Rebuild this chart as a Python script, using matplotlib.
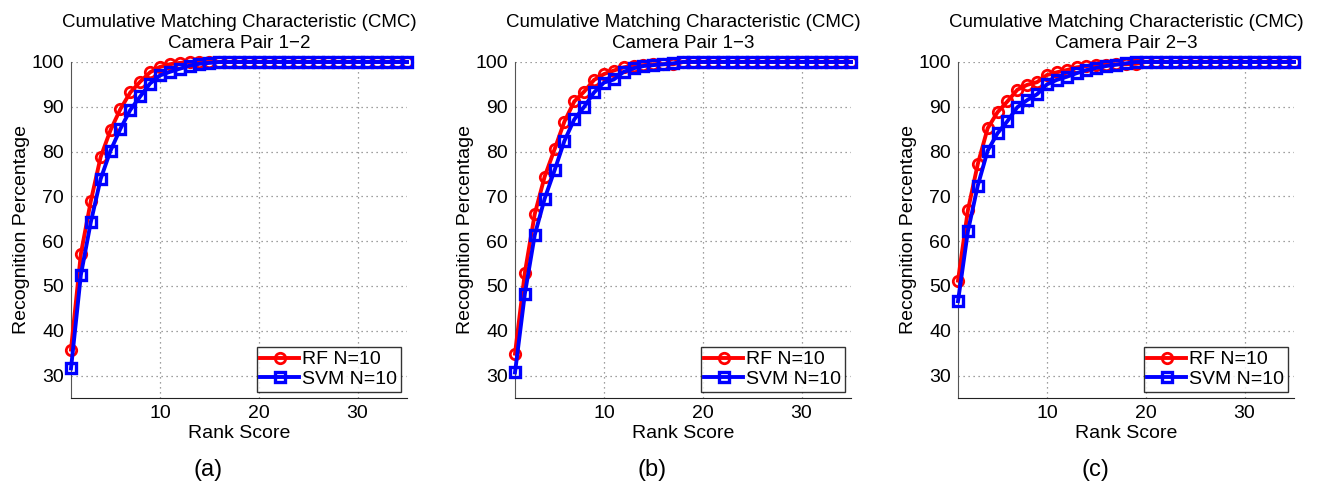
import matplotlib
matplotlib.use("Agg")
import matplotlib.pyplot as plt
import numpy as np

plt.rcParams['font.family'] = ['Liberation Sans', 'DejaVu Sans']

ranks = list(range(1, 36))

titles = ["Camera Pair 1\u22122", "Camera Pair 1\u22123", "Camera Pair 2\u22123"]
captions = ["(a)", "(b)", "(c)"]

rf_a = [35.8, 57.2, 68.9, 78.8, 84.8, 89.5, 93.2, 95.6, 97.7, 98.9, 99.5, 99.8,
        100, 100, 100, 100, 100, 100, 100, 100, 100, 100, 100, 100, 100, 100,
        100, 100, 100, 100, 100, 100, 100, 100, 100]
svm_a = [31.6, 52.5, 64.2, 73.9, 80.2, 85.1, 89.3, 92.3, 95.2, 97.0, 97.8, 98.5,
         99.2, 99.6, 99.8, 100, 100, 100, 100, 100, 100, 100, 100, 100, 100, 100,
         100, 100, 100, 100, 100, 100, 100, 100, 100]

rf_b = [34.9, 53.0, 66.1, 74.4, 80.5, 86.7, 91.2, 93.4, 96.0, 97.3, 98.1, 98.8,
        99.2, 99.3, 99.5, 99.5, 99.5, 100, 100, 100, 100, 100, 100, 100, 100, 100,
        100, 100, 100, 100, 100, 100, 100, 100, 100]
svm_b = [30.7, 48.3, 61.4, 69.5, 75.8, 82.4, 87.2, 90.0, 93.2, 95.4, 96.1, 97.8,
         98.6, 99.1, 99.3, 99.5, 99.7, 100, 100, 100, 100, 100, 100, 100, 100, 100,
         100, 100, 100, 100, 100, 100, 100, 100, 100]

rf_c = [51.2, 66.9, 77.2, 85.2, 88.8, 91.2, 93.8, 94.9, 95.5, 97.1, 97.7, 98.2,
        98.8, 99.1, 99.3, 99.4, 99.5, 99.5, 99.6, 100, 100, 100, 100, 100, 100, 100,
        100, 100, 100, 100, 100, 100, 100, 100, 100]
svm_c = [46.6, 62.2, 72.4, 80.2, 84.1, 86.8, 89.9, 91.5, 92.8, 95.0, 96.0, 96.7,
         97.5, 98.2, 98.7, 99.1, 99.4, 99.7, 100, 100, 100, 100, 100, 100, 100, 100,
         100, 100, 100, 100, 100, 100, 100, 100, 100]

rf_series = [rf_a, rf_b, rf_c]
svm_series = [svm_a, svm_b, svm_c]

W, H = 1324, 487
fig = plt.figure(figsize=(W / 100, H / 100), dpi=100)

lefts = [71, 515, 958]
width_px = 336
top_px, bottom_px = 62, 398

for i in range(3):
    ax = fig.add_axes([lefts[i] / W, 1 - bottom_px / H, width_px / W, (bottom_px - top_px) / H])
    ax.plot(ranks, rf_series[i], color='#ff0000', lw=2.8, marker='o', ms=7.5,
            mfc='none', mec='#ff0000', mew=2, label='RF N=10', zorder=3, clip_on=False)
    ax.plot(ranks, svm_series[i], color='#0000ff', lw=2.8, marker='s', ms=7,
            mfc='none', mec='#0000ff', mew=2.4, label='SVM N=10', zorder=4, clip_on=False)
    ax.set_xlim(1, 35)
    ax.set_ylim(25, 100)
    ax.set_xticks([10, 20, 30])
    ax.set_yticks([30, 40, 50, 60, 70, 80, 90, 100])
    ax.grid(True, linestyle=(0, (1, 3)), color='#808080', linewidth=0.9)
    ax.set_axisbelow(True)
    for s in ['top', 'right']:
        ax.spines[s].set_visible(False)
    ax.spines['left'].set_color('#555555')
    ax.spines['bottom'].set_color('#222222')
    ax.tick_params(axis='both', labelsize=14, direction='in', length=0, pad=5)
    ax.set_xlabel('Rank Score', fontsize=14, labelpad=2)
    ax.set_ylabel('Recognition Percentage', fontsize=14, labelpad=1)
    ax.set_title('Cumulative Matching Characteristic (CMC)\n' + titles[i],
                 fontsize=13.5, pad=10, linespacing=1.3)
    leg = ax.legend(loc='lower right', fontsize=14, frameon=True, fancybox=False,
                    edgecolor='black', borderpad=0.2, handlelength=2.0,
                    handletextpad=0.15, labelspacing=0.12, borderaxespad=0.3)
    leg.get_frame().set_linewidth(1.0)
    cx = (lefts[i] + width_px / 2 - 31) / W
    fig.text(cx, 1 - 470 / H, captions[i], ha='center', va='center', fontsize=17)

fig.savefig('out.png', dpi=100)
